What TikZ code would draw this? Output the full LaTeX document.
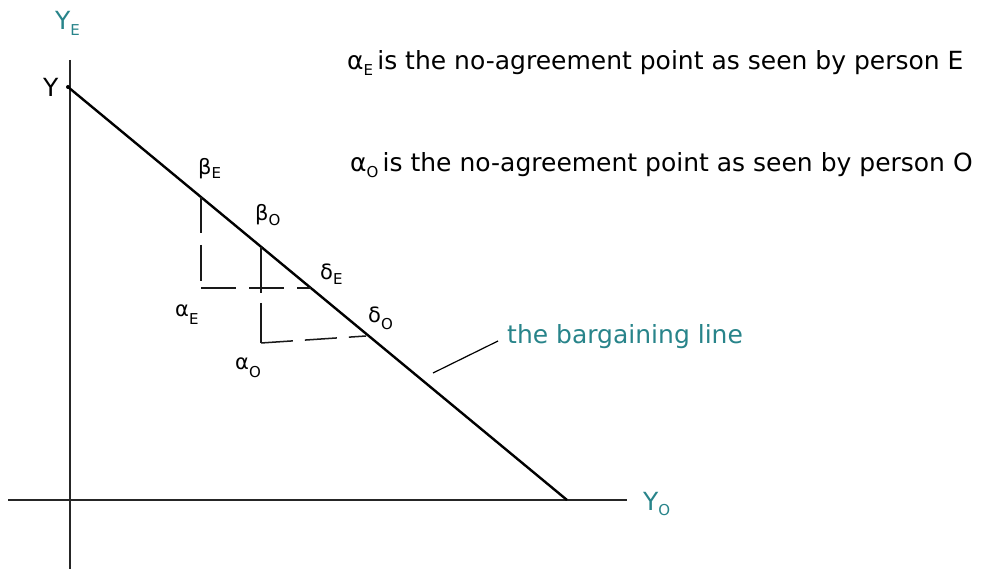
\documentclass[tikz,border=0pt]{standalone}
\usepackage{fontspec}
\setmainfont{DejaVu Sans}
\definecolor{tealc}{RGB}{40,132,138}
\newcommand{\lsub}[2][6pt]{\raisebox{-#1}{\fontsize{15}{15}\selectfont #2}}
\begin{document}
\begin{tikzpicture}[x=1pt,y=-1pt,
  axisline/.style={line width=2pt,black!85},
  barline/.style={line width=2.4pt,black},
  guide/.style={line width=1.5pt,black!90,dash pattern=on 36pt off 12pt},
  lbl/.style={anchor=base west,inner sep=0pt,font=\fontsize{21}{21}\selectfont},
  big/.style={anchor=base west,inner sep=0pt,font=\fontsize{25}{25}\selectfont},
  note/.style={anchor=base west,inner sep=0pt,font=\fontsize{25}{25}\selectfont}]
\useasboundingbox (0,0) rectangle (983,569);
% axes
\coordinate (vtop) at (70,60);
\coordinate (vbot) at (70,569);
\coordinate (hleft) at (8,500);
\coordinate (hright) at (627,500);
\draw[axisline] (vtop) -- (vbot);
\draw[axisline] (hleft) -- (hright);
% bargaining line
\coordinate (yint) at (68,87);
\coordinate (xint) at (567,500);
\fill (yint) circle (2pt);
\draw[barline] (yint) -- (xint);
% guide points
\coordinate (bE) at (201,197);
\coordinate (aE) at (201,288);
\coordinate (dE) at (311,288);
\coordinate (bO) at (261,247);
\coordinate (aO) at (261,343);
\coordinate (dO) at (366,336);
\draw[guide] (bE) -- (aE);
\draw[guide,dash pattern=on 35pt off 13pt] (aE) -- (dE);
\draw[guide,dash pattern=on 46pt off 10pt] (bO) -- (aO);
\draw[guide,dash pattern=on 32pt off 12pt] (aO) -- (dO);
% axis labels
\node[big,text=tealc] (ye) at (55,30) {Y\lsub{E}};
\node[big,text=tealc] (yo) at (643,510) {Y\lsub[5pt]{O}};
\node[big] (ylab) at (43,97) {Y};
% greek labels
\node[lbl] (lbE) at (198,175) {β\lsub[4pt]{E}};
\node[lbl] (lbO) at (255,221) {β\lsub[5pt]{O}};
\node[lbl] (ldE) at (320,280) {δ\lsub[5pt]{E}};
\node[lbl] (ldO) at (368,323) {δ\lsub[7pt]{O}};
\node[lbl] (laE) at (175,317) {α\lsub[8pt]{E}};
\node[lbl] (laO) at (235,370) {α\lsub[8pt]{O}};
% notes
\node[note] (n1) at (347,70) {α\lsub[6pt]{E}\,is the no-agreement point as seen by person E};
\node[note] (n2) at (350,172) {α\lsub[6pt]{O}\,is the no-agreement point as seen by person O};
% bargaining line label
\node[note,text=tealc] (bl) at (507,344) {the bargaining line};
\coordinate (ptr) at (433,373);
\draw[line width=1.2pt] (bl.west |- 0,341) ++(-9,0) coordinate (ptrs) (ptrs) -- (ptr);
\end{tikzpicture}
\end{document}
